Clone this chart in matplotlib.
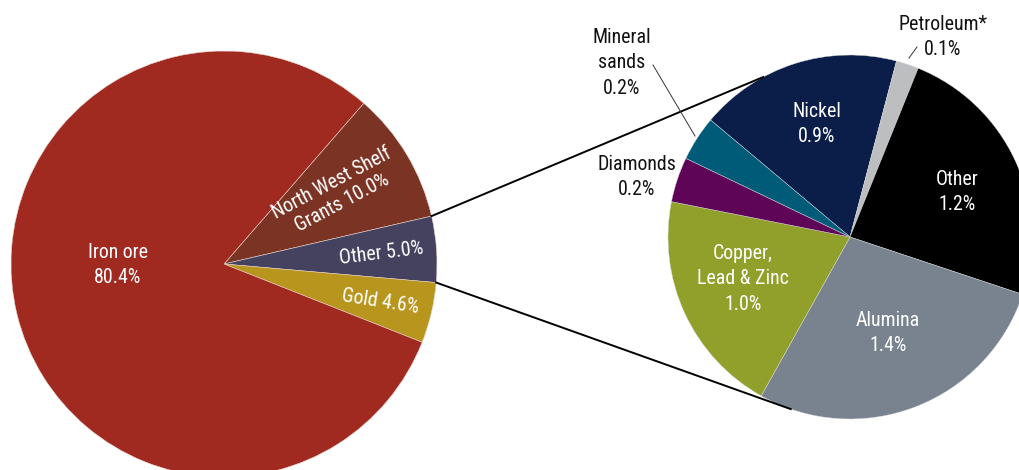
import numpy as np
import matplotlib
matplotlib.use("Agg")
import matplotlib.pyplot as plt
from matplotlib import font_manager

# ---------------- data ----------------
left_labels = ["North West Shelf\nGrants", "Other", "Gold", "Iron ore"]
left_values = [10.0, 5.0, 4.6, 80.4]
left_colors = ["#7B3323", "#45425F", "#B8961E", "#A02A20"]

right_labels = ["Nickel", "Petroleum*", "Other", "Alumina", "Copper,\nLead & Zinc", "Diamonds", "Mineral\nsands"]
right_values = [0.9, 0.1, 1.2, 1.4, 1.0, 0.2, 0.2]
right_colors = ["#0B1E4A", "#BDBEC0", "#000000", "#78838F", "#90A02A", "#5E0558", "#005B79"]

# ---------------- font ----------------
names = {f.name for f in font_manager.fontManager.ttflist}
family = None
for cand in ["Roboto Condensed", "Liberation Sans Narrow", "Open Sans Condensed", "DejaVu Sans Condensed"]:
    if cand in names:
        family = cand
        break
if family is None:
    family = "Liberation Sans"
plt.rcParams['font.family'] = [family, 'DejaVu Sans']

W, H = 1020, 470
fig = plt.figure(figsize=(W / 100, H / 100), dpi=100)
ax = fig.add_axes([0, 0, 1, 1])

# geometry (pixel space, y up)
lc, lr = (224, H - 264), 213
rc, rr = (850, H - 237), 182
left_start = 49
right_start = 140

ax.pie(left_values, colors=left_colors, startangle=left_start, counterclock=False,
       center=lc, radius=lr, wedgeprops=dict(edgecolor="#e8d0c8", linewidth=0.4))
ax.pie(right_values, colors=right_colors, startangle=right_start, counterclock=False,
       center=rc, radius=rr, wedgeprops=dict(edgecolor="#dddddd", linewidth=0.3))
ax.set_xlim(0, W)
ax.set_ylim(0, H)
ax.set_aspect('equal')
ax.axis('off')

# connector lines: from boundaries of the "Other" wedge to the second pie
other_top = left_start - left_values[0] / 100 * 360
other_bot = other_top - left_values[1] / 100 * 360
def pt(c, r, a):
    return c[0] + r * np.cos(np.radians(a)), c[1] + r * np.sin(np.radians(a))
p1 = pt(lc, lr, other_top)
p2 = pt(lc, lr, other_bot)
q1 = pt(rc, rr, 118.5)
q2 = pt(rc, rr, -109)
ax.plot([p1[0], q1[0]], [p1[1], q1[1]], color="black", lw=1.4, zorder=5)
ax.plot([p2[0], q2[0]], [p2[1], q2[1]], color="black", lw=1.4, zorder=5)

fs = 14.3
def T(x, y, s, color="white", rot=0, ls=1.45, **kw):
    ax.text(x, H - y, s, color=color, fontsize=fs, ha="center", va="center",
            rotation=rot, rotation_mode="anchor", linespacing=ls, zorder=6, **kw)

pct = lambda v: f"{v:.1f}%"
# left labels
T(118, 265, f"{left_labels[3]}\n{pct(left_values[3])}")
T(337, 193, f"{left_labels[0]} {pct(left_values[0])}", rot=28, ls=1.2)
T(381, 253, f"{left_labels[1]} {pct(left_values[1])}", rot=7)
T(380, 302, f"{left_labels[2]} {pct(left_values[2])}", rot=-9)

# right labels
T(817, 124, f"{right_labels[0]}\n{pct(right_values[0])}")
T(957, 192, f"{right_labels[2]}\n{pct(right_values[2])}")
T(888, 333, f"{right_labels[3]}\n{pct(right_values[3])}")
T(743, 279, f"{right_labels[4]}\n{pct(right_values[4])}")
T(637, 177, f"{right_labels[5]}\n{pct(right_values[5])}", color="#111111")
T(622, 63, f"{right_labels[6]}\n{pct(right_values[6])}", color="#111111")
T(943, 37, f"{right_labels[1]}\n{pct(right_values[1])}", color="#111111")

# leader lines
ax.plot([653, 695], [H - 65, H - 136], color="#333333", lw=0.7, zorder=5)
ax.plot([909, 917], [H - 58, H - 47], color="#333333", lw=0.7, zorder=5)

fig.savefig("out.png", dpi=100)
